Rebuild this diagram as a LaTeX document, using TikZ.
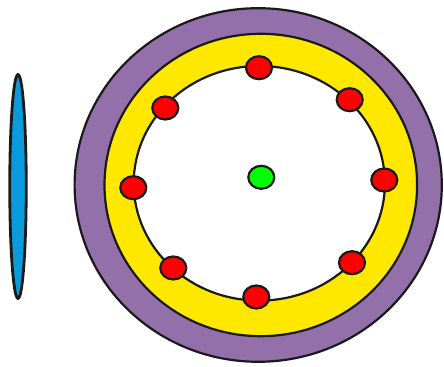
\documentclass[tikz,border=0pt]{standalone}
\usepackage{xcolor}
\usepackage{tikz}
\usetikzlibrary{shapes.geometric}
\definecolor{Ink}{HTML}{1A1A1A}
\definecolor{Purple}{HTML}{9470AB}
\definecolor{Yellow}{HTML}{FFE800}
\definecolor{Red}{HTML}{FF0000}
\definecolor{Green}{HTML}{00FF00}
\definecolor{Sky}{HTML}{0A9BDC}
\begin{document}
\begin{tikzpicture}[x=0.02cm, y=-0.02cm, ring/.style={draw=Ink, line width=1.25pt}, dot/.style={ellipse, draw=Ink, line width=1.25pt, inner sep=0pt, minimum width=0.52cm, minimum height=0.46cm, fill=Red}, lens/.style={ellipse, draw=Ink, line width=1.6pt, inner sep=0pt, minimum width=0.33cm, minimum height=4.48cm, fill=Sky}]
\clip (0,0) rectangle (444,367);
\draw[ring,fill=Purple] (258.2,185) ellipse [x radius=183.6, y radius=176.8];
\draw[ring,fill=Yellow] (260.8,185) ellipse [x radius=156.3, y radius=151.2];
\draw[ring,fill=white] (259.3,183.3) ellipse [x radius=125.6, y radius=117.3];
\foreach \n/\x/\y in {1/259/67.7,2/349.7/99.7,3/384.3/180,4/352/262.7,5/256.3/297,6/173.3/268,7/133.3/187.7,8/165.3/108}{\node[dot] (d\n) at (\x,\y) {};}
\node[dot,fill=Green] (core) at (261.3,177.3) {};
\node[lens] (blade) at (18,186.5) {};
\end{tikzpicture}
\end{document}
